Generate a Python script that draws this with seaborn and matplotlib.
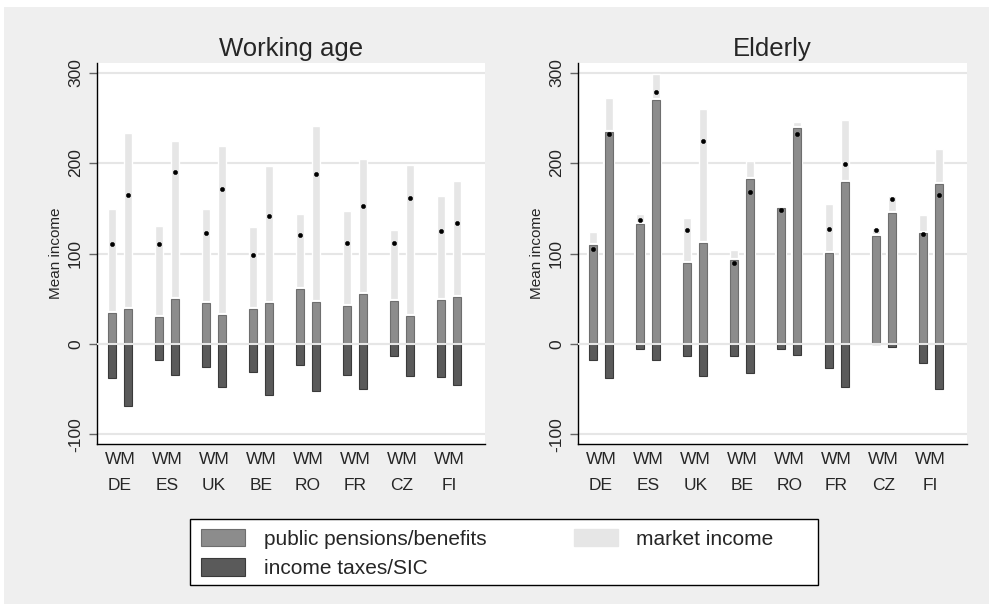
import numpy as np
import pandas as pd
import matplotlib
matplotlib.use("Agg")
import matplotlib.pyplot as plt
from matplotlib.patches import Patch, Rectangle
import seaborn as sns

# ---- data -------------------------------------------------------------
countries = ["DE", "ES", "UK", "BE", "RO", "FR", "CZ", "FI"]
groups = ["W", "M"]

# Working age
wa_benefits_W = [34, 30, 45, 39, 61, 42, 48, 49]
wa_market_W = [115, 100, 104, 90, 83, 105, 78, 114]
wa_taxes_W = [38, 18, 25, 31, 23, 34, 13, 37]
wa_net_W = [111, 111, 123, 98, 120, 112, 112, 125]

wa_benefits_M = [39, 50, 32, 45, 46, 55, 31, 52]
wa_market_M = [194, 174, 187, 152, 195, 149, 167, 128]
wa_taxes_M = [68, 34, 48, 56, 52, 50, 35, 45]
wa_net_M = [165, 190, 171, 141, 188, 153, 161, 134]

# Elderly
el_benefits_W = [109, 133, 90, 93, 150, 101, 119, 123]
el_market_W = [15, 11, 49, 11, 4, 54, 9, 19]
el_taxes_W = [18, 6, 13, 13, 5, 26, 0, 21]
el_net_W = [105, 137, 126, 90, 148, 127, 126, 121]

el_benefits_M = [234, 270, 112, 182, 239, 179, 145, 177]
el_market_M = [38, 28, 148, 20, 6, 68, 18, 39]
el_taxes_M = [38, 18, 35, 32, 12, 47, 3, 50]
el_net_M = [232, 279, 224, 168, 232, 199, 160, 165]

panel_titles = ["Working age", "Elderly"]
legend_labels = ["public pensions/benefits", "income taxes/SIC", "market income"]
y_ticks = [-100, 0, 100, 200, 300]

# ---- styling ----------------------------------------------------------
sns.set_style("white")
plt.rcParams["font.family"] = ["Liberation Sans", "DejaVu Sans"]

C_BENEFIT = "#8c8c8c"
C_BENEFIT_EDGE = "#6e6e6e"
C_MARKET = "#e6e6e6"
C_TAX = "#5a5a5a"
C_TAX_EDGE = "#3a3a3a"
C_GRID = "#e6e6e6"
C_BG = "#efefef"


def build_frame(bW, mW, tW, nW, bM, mM, tM, nM):
    rows = []
    for i, c in enumerate(countries):
        for g, b, m, t, n in (("W", bW[i], mW[i], tW[i], nW[i]),
                              ("M", bM[i], mM[i], tM[i], nM[i])):
            rows.append({"country": c, "group": g, "benefits": b,
                         "total": b + m, "neg_taxes": -t, "net": n})
    return pd.DataFrame(rows)


frames = [
    build_frame(wa_benefits_W, wa_market_W, wa_taxes_W, wa_net_W,
                wa_benefits_M, wa_market_M, wa_taxes_M, wa_net_M),
    build_frame(el_benefits_W, el_market_W, el_taxes_W, el_net_W,
                el_benefits_M, el_market_M, el_taxes_M, el_net_M),
]

W, H = 989, 604
fig = plt.figure(figsize=(W / 100, H / 100), dpi=100)
fig.patch.set_facecolor("white")
fig.add_artist(Rectangle((4 / W, 0), 1 - 4 / W, 1 - 7 / H,
                         transform=fig.transFigure, facecolor=C_BG,
                         edgecolor="none", zorder=-10))

axes_rects = [
    [97 / W, 1 - 444 / H, 388 / W, 381 / H],
    [578 / W, 1 - 444 / H, 389 / W, 381 / H],
]

bar_kw = dict(x="country", y=None, hue="group", hue_order=groups,
              dodge=True, width=0.68, gap=0.5, errorbar=None, legend=False)

for df, rect, title in zip(frames, axes_rects, panel_titles):
    ax = fig.add_axes(rect)
    ax.set_facecolor("white")
    ax.set_axisbelow(True)

    def bars(col, color, edge, lw):
        kw = dict(bar_kw)
        kw["y"] = col
        sns.barplot(data=df, palette={g: color for g in groups},
                    edgecolor=edge, linewidth=lw, ax=ax, **kw)

    # market income stacked on top of benefits (drawn as total, then benefits over it)
    bars("total", C_MARKET, "white", 1.0)
    bars("benefits", C_BENEFIT, "white", 3.0)
    bars("benefits", C_BENEFIT, C_BENEFIT_EDGE, 0.8)
    bars("neg_taxes", C_TAX, C_TAX_EDGE, 0.8)

    ax.axhline(0, color=C_GRID, lw=1.5, zorder=3)

    # net income markers
    sns.pointplot(data=df, x="country", y="net", hue="group", hue_order=groups,
                  dodge=0.34, linestyle="none", markers="o",
                  palette={g: "black" for g in groups}, markersize=3.0,
                  markeredgewidth=0.4, errorbar=None, legend=False, ax=ax,
                  zorder=5)

    ax.set_xlim(-0.49, 7.77)
    ax.set_ylim(-110.5, 310.5)
    ax.set_yticks(y_ticks)
    ax.set_yticklabels([str(v) for v in y_ticks], rotation=90, va="center",
                       fontsize=12.5)
    ax.yaxis.grid(True, color=C_GRID, lw=1.5)
    ax.xaxis.grid(False)

    ax.set_xticks(range(len(countries)))
    ax.set_xticklabels(["".join(groups)] * len(countries), fontsize=12.5)
    ax.tick_params(axis="x", length=0, pad=6)
    ax.tick_params(axis="y", length=6, width=1, color="#666666", pad=4,
                   left=True)

    for i, c in enumerate(countries):
        ax.annotate(c, xy=(i, 0), xycoords=ax.get_xaxis_transform(),
                    xytext=(0, -30), textcoords="offset points",
                    ha="center", va="center", fontsize=12.5)

    ax.set_xlabel("")
    ax.set_ylabel("Mean income", fontsize=11, labelpad=4)
    ax.set_title(title, fontsize=18.5, pad=5)

    for s in ("top", "right"):
        ax.spines[s].set_visible(False)
    for s in ("left", "bottom"):
        ax.spines[s].set_color("black")
        ax.spines[s].set_linewidth(1.0)

# legend box
fig.add_artist(Rectangle((190 / W, 1 - 585 / H), 628 / W, 66 / H,
                         transform=fig.transFigure, facecolor="white",
                         edgecolor="black", lw=1.0, zorder=1))
handles = [
    Patch(facecolor=C_BENEFIT, edgecolor=C_BENEFIT_EDGE, lw=0.8),
    Patch(facecolor=C_TAX, edgecolor=C_TAX_EDGE, lw=0.8),
    Patch(facecolor=C_MARKET, edgecolor=C_MARKET),
]
leg = fig.legend(handles, legend_labels, ncol=2, frameon=False,
                 loc="upper left", bbox_to_anchor=(197 / W, 1 - 525 / H),
                 fontsize=15, handlelength=2.1, handleheight=0.9,
                 handletextpad=0.9, columnspacing=4.2, labelspacing=0.45,
                 borderpad=0.2, borderaxespad=0)
leg.set_zorder(2)

fig.savefig("out.png", dpi=100, facecolor=fig.get_facecolor())
